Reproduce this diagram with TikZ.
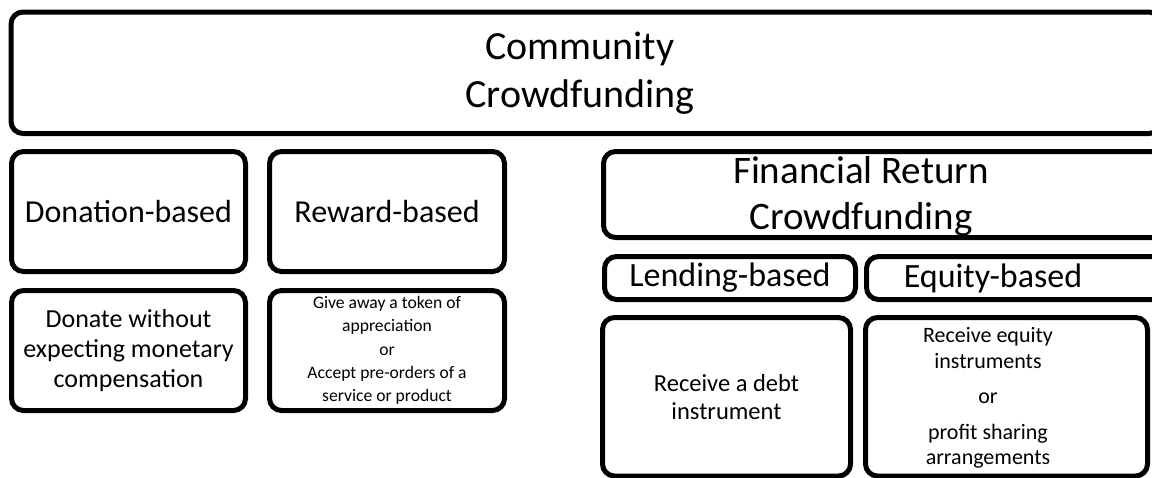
\documentclass[tikz,border=0pt]{standalone}
\usepackage{fontspec}
\setmainfont{Carlito}
\usepackage{tikz}
\tikzstyle{tile} = [rectangle, rounded corners=12pt, line width=5pt, draw=black, fill=white, inner sep=0pt, outer sep=0pt, anchor=north west, align=center]
\tikzstyle{title} = [font=\fontsize{40}{48}\selectfont, align=center]
\tikzstyle{kind} = [font=\fontsize{32}{38}\selectfont]
\tikzstyle{subkind} = [font=\fontsize{34}{40}\selectfont]

\begin{document}
\begin{tikzpicture}[x=1pt, y=-1pt]
\useasboundingbox (0,0) rectangle (1152,477);
\clip (0,0) rectangle (1152,477);

\node (community) [tile, minimum width=1150pt, minimum height=121.5pt] at (11,12) {};
\node (communityText) [title] at ([xshift=-6pt]community.center) {Community\\Crowdfunding};

\node (donation) [tile, kind, minimum width=234pt, minimum height=120pt] at ([xshift=0.5pt, yshift=-18pt]community.south west) {Donation-based};
\node (reward) [tile, kind, minimum width=235pt, minimum height=120pt] at ([xshift=24pt]donation.north east) {Reward-based};
\node (donationInfo) [tile, font=\fontsize{26}{30}\selectfont, minimum width=234pt, minimum height=120pt] at ([yshift=-19pt]donation.south west) {Donate without\\expecting monetary\\compensation};
\node (rewardInfo) [tile, font=\fontsize{17.6}{23.3}\selectfont, minimum width=235pt, minimum height=120pt] at ([yshift=-19pt]reward.south west) {Give away a token of\\appreciation\\or\\Accept pre-orders of a\\service or product};

\node (financial) [tile, minimum width=561pt, minimum height=86pt] at ([xshift=99pt]reward.north east) {};
\node (financialText) [title, font=\fontsize{39}{46}\selectfont] at ([xshift=-23pt, yshift=-2pt]financial.center) {Financial Return\\Crowdfunding};

\node (lending) [tile, subkind, minimum width=251pt, minimum height=43pt] at ([xshift=1pt, yshift=-19pt]financial.south west) {Lending-based};
\node (equity) [tile, minimum width=300pt, minimum height=43pt] at ([xshift=11pt]lending.north east) {};
\node (equityText) [subkind] at ([xshift=-23.5pt]equity.center) {Equity-based};

\node (lendingInfo) [tile, font=\fontsize{24.5}{28}\selectfont, minimum width=248pt, minimum height=158.5pt] at ([xshift=-2pt, yshift=-18pt]lending.south west) {Receive a debt\\instrument};
\node (equityInfo) [tile, minimum width=282pt, minimum height=158.5pt] at ([xshift=15pt]lendingInfo.north east) {};
\node (equityInfoText) [align=center, font=\fontsize{22}{25.5}\selectfont] at ([xshift=-18.5pt, yshift=-1.5pt]equityInfo.center) {Receive equity\\instruments\\[10pt]or\\[10pt]profit sharing\\arrangements};
\end{tikzpicture}
\end{document}
